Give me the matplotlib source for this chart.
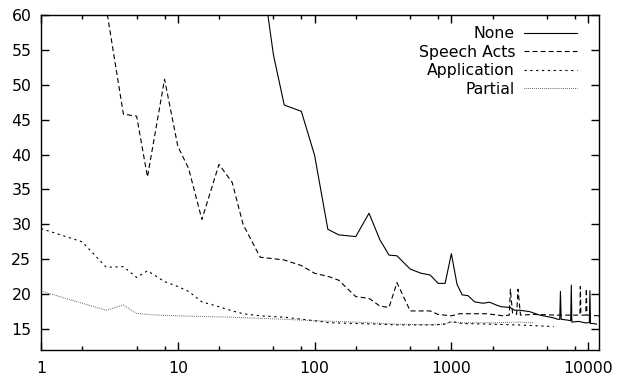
import matplotlib
matplotlib.use('Agg')
import matplotlib.pyplot as plt
from matplotlib.ticker import LogLocator, NullFormatter, FixedLocator

plt.rcParams['font.family'] = ['DejaVu Sans']
plt.rcParams['font.size'] = 11.3
plt.rcParams['lines.scale_dashes'] = False

# None (solid)
x_none = [40, 50, 60, 80, 100, 125, 150, 200, 250, 300, 350, 400, 500, 600, 700, 800, 900,
          1000, 1100, 1200, 1320, 1480, 1700, 1900, 2130, 2320, 2680, 2900, 3160, 3740, 4420,
          5000, 5600, 6000, 6200, 6270, 6350, 7000, 7450, 7530, 7600, 8500, 9500, 10200,
          10300, 10400, 11000, 11500]
y_none = [68, 54.3, 47.1, 46.2, 39.9, 29.3, 28.5, 28.25, 31.6, 27.8, 25.6, 25.5, 23.6, 23.0,
          22.75, 21.55, 21.55, 25.8, 21.4, 19.9, 19.8, 18.9, 18.7, 18.85, 18.45, 18.2, 18.1,
          17.7, 17.7, 17.5, 17.0, 16.8, 16.6, 16.4, 16.4, 20.4, 16.4, 16.3, 16.2, 21.3, 16.0,
          16.1, 15.9, 15.9, 20.5, 15.8, 15.8, 15.7]

# Speech Acts (dashed)
x_sa = [1, 2, 3, 4, 5, 6, 8, 10, 12, 15, 20, 25, 30, 40, 60, 80, 100, 128, 150, 200, 250,
        300, 350, 400, 500, 700, 800, 1000, 1150, 1800, 2400, 2650, 2700, 2800, 3000, 3070,
        3200, 4000, 6000, 8700, 8770, 8850, 9600, 9700, 9800, 12000]
y_sa = [80, 70, 61, 45.8, 45.5, 36.8, 50.8, 41.2, 38.0, 30.7, 38.6, 36.0, 30.0, 25.3, 24.9,
        24.1, 23.0, 22.5, 22.0, 19.65, 19.4, 18.3, 18.1, 21.65, 17.6, 17.6, 17.1, 16.9, 17.2,
        17.2, 16.9, 17.0, 20.7, 17.3, 17.1, 20.7, 17.0, 17.1, 17.0, 17.0, 21.1, 17.0, 17.0,
        20.8, 17.0, 16.9]

# Application (fine dashes)
x_app = [1, 2, 3, 4, 5, 6, 8, 10, 12, 15, 20, 25, 30, 40, 60, 100, 130, 200, 300, 400, 700,
         900, 1000, 1200, 2000, 3000, 4000, 5600]
y_app = [29.4, 27.5, 23.85, 23.95, 22.4, 23.35, 21.8, 21.1, 20.4, 18.9, 18.2, 17.6, 17.2,
         16.9, 16.7, 16.2, 15.9, 15.8, 15.7, 15.6, 15.6, 15.7, 16.1, 15.8, 15.7, 15.6, 15.5,
         15.35]

# Partial (dotted)
x_part = [1, 2, 3, 4, 5, 7, 10, 15, 25, 60, 100, 200, 400, 800, 1000, 1200, 2000, 3000, 4000]
y_part = [20.45, 18.7, 17.7, 18.45, 17.25, 17.0, 16.9, 16.8, 16.7, 16.4, 16.2, 16.0, 15.7,
          15.6, 16.0, 15.9, 15.9, 16.0, 15.9]

fig = plt.figure(figsize=(6.17, 3.8), dpi=100)
ax = fig.add_axes([0.0665, 0.0789, 0.9043, 0.8816])

lw = 0.8
ax.plot(x_none, y_none, color='black', lw=lw, label='None')
ax.plot(x_sa, y_sa, color='black', lw=lw, dashes=(3.6, 2.2), label='Speech Acts')
ax.plot(x_app, y_app, color='black', lw=lw, dashes=(1.6, 2.6), label='Application')
ax.plot(x_part, y_part, color='#333333', lw=0.7, dashes=(0.5, 0.9), label='Partial')

ax.set_xscale('log')
ax.set_xlim(1, 12000)
ax.set_ylim(12, 60)
ax.xaxis.set_major_locator(FixedLocator([1, 10, 100, 1000, 10000]))
ax.set_xticklabels(['1', '10', '100', '1000', '10000'])
ax.xaxis.set_minor_locator(LogLocator(base=10, subs=(2, 5, 8)))
ax.xaxis.set_minor_formatter(NullFormatter())
ax.set_yticks(range(15, 61, 5))

for s in ax.spines.values():
    s.set_linewidth(1.0)
ax.tick_params(which='both', direction='in', top=True, right=True, width=1.0)
ax.tick_params(which='major', length=5.5)
ax.tick_params(which='minor', length=2.8)
ax.tick_params(axis='x', pad=8)
ax.tick_params(axis='y', pad=7)

ax.legend(loc='upper right', bbox_to_anchor=(0.9606, 0.966), frameon=False,
          markerfirst=False, handlelength=3.4, handletextpad=0.55, labelspacing=0.22,
          borderpad=0, borderaxespad=0, fontsize=11.3)

fig.savefig('out.png', dpi=100)
